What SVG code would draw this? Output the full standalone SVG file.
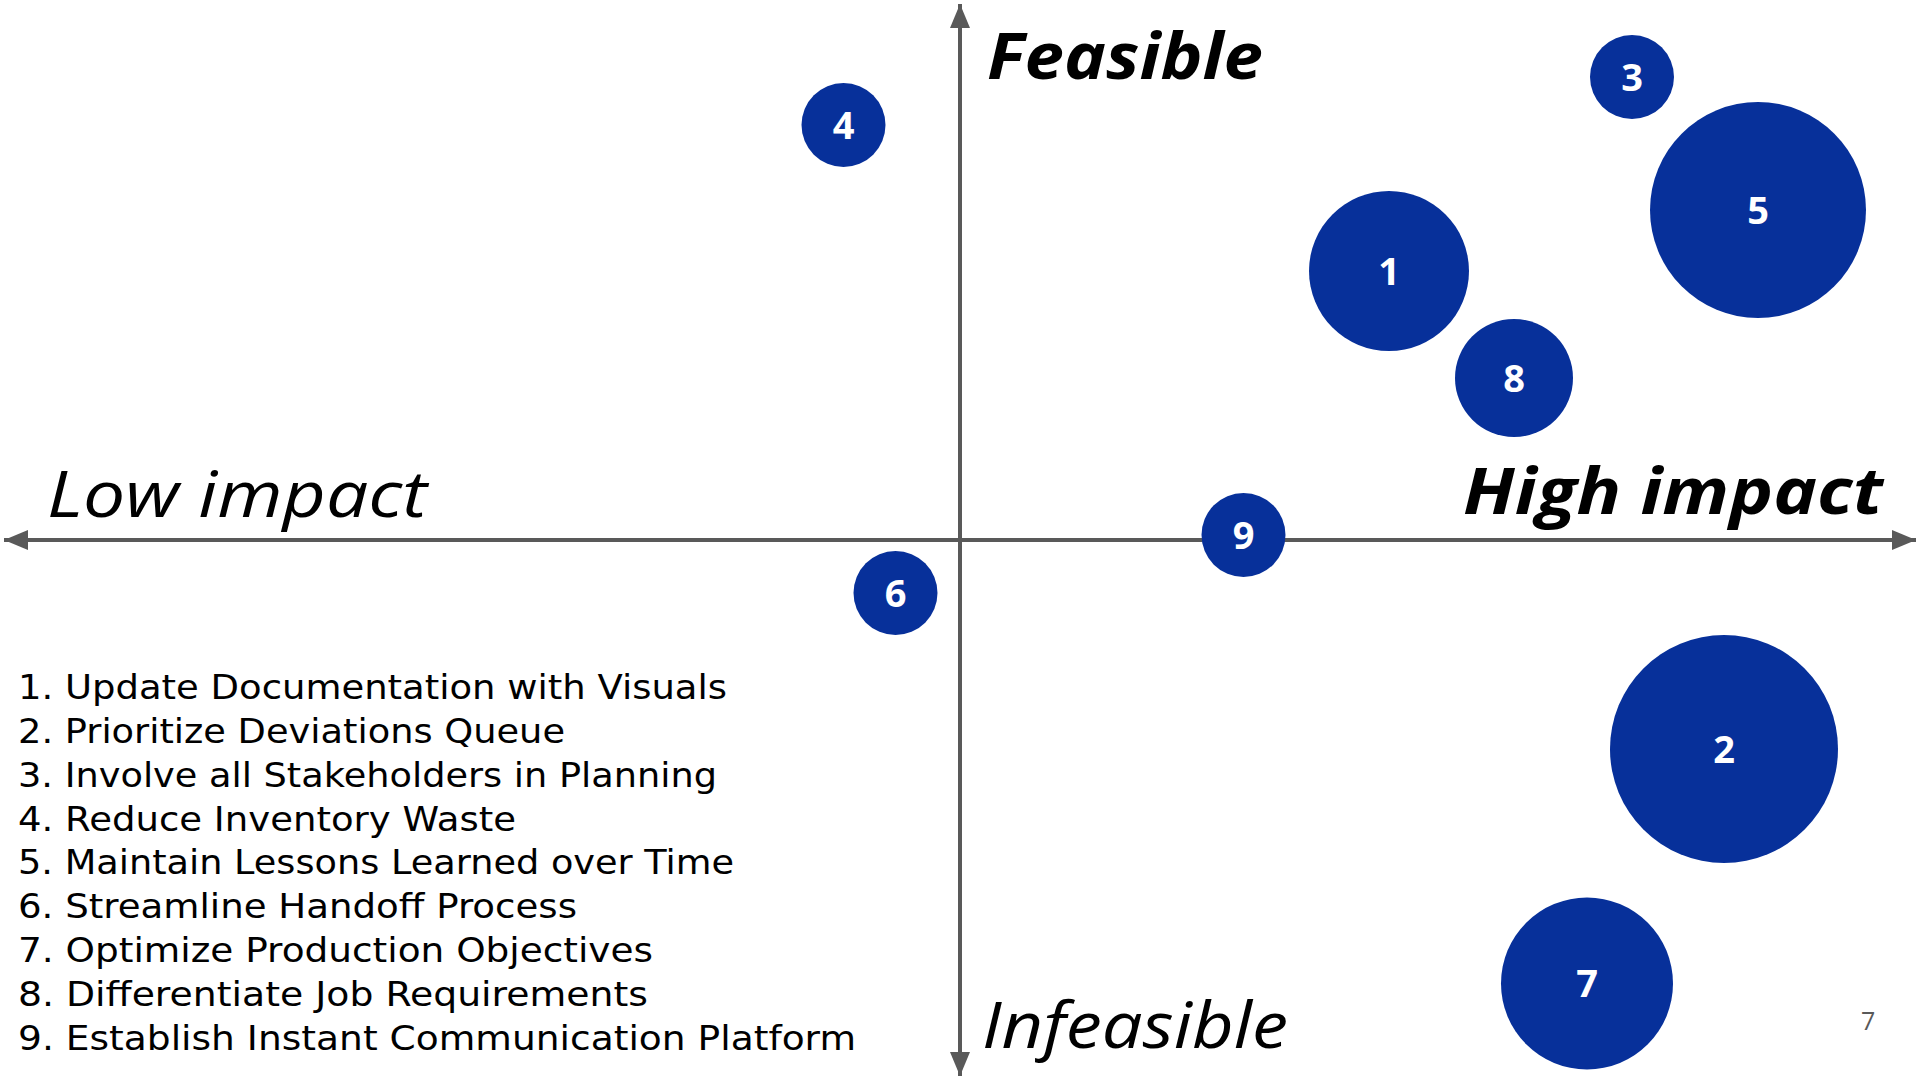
<svg xmlns="http://www.w3.org/2000/svg" width="1920" height="1080" viewBox="0 0 1920 1080">
<defs>
<style>
.bub{fill:#07309A;}
.num{fill:#FFFFFF;font-family:"Open Sans","Noto Sans",sans-serif;font-weight:700;font-size:38px;text-anchor:middle;}
.axis{stroke:#595959;stroke-width:4;fill:none;}
.lblB{fill:#000000;font-family:"Open Sans","Noto Sans",sans-serif;font-weight:700;font-style:italic;font-size:64px;}
.lblR{fill:#000000;font-family:"Open Sans","Noto Sans",sans-serif;font-weight:400;font-style:italic;font-size:64px;}
.item{fill:#000000;font-family:"DejaVu Sans","Open Sans",sans-serif;font-weight:400;font-size:34px;}
.pg{fill:#595959;font-family:"Open Sans","Noto Sans",sans-serif;font-size:25px;}
</style>
<marker id="arr" markerUnits="userSpaceOnUse" markerWidth="24" markerHeight="20" viewBox="0 0 24 20" refX="24" refY="10" orient="auto-start-reverse">
<path d="M0,0 L24,10 L0,20 Z" fill="#595959"/>
</marker>
</defs>
<rect x="0" y="0" width="1920" height="1080" fill="#FFFFFF"/>
<g id="connectors">
<line class="axis" x1="4" y1="540" x2="1916" y2="540" marker-start="url(#arr)" marker-end="url(#arr)"/>
<line class="axis" x1="960" y1="4" x2="960" y2="1076" marker-start="url(#arr)" marker-end="url(#arr)"/>
</g>
<g id="axis-labels">
<text id="label-feasible" class="lblB" x="987" y="79" textLength="276" lengthAdjust="spacingAndGlyphs">Feasible</text>
<text id="label-high" class="lblB" x="1463" y="514" textLength="420" lengthAdjust="spacingAndGlyphs">High impact</text>
<text id="label-low" class="lblR" x="47" y="517" textLength="380" lengthAdjust="spacingAndGlyphs">Low impact</text>
<text id="label-infeasible" class="lblR" x="982" y="1048" textLength="306" lengthAdjust="spacingAndGlyphs">Infeasible</text>
</g>
<g id="node-1"><circle class="bub" cx="1389" cy="271" r="80"/><text class="num" x="1389" y="285">1</text></g>
<g id="node-2"><circle class="bub" cx="1724" cy="749" r="114"/><text class="num" x="1724" y="763">2</text></g>
<g id="node-3"><circle class="bub" cx="1632" cy="77" r="42"/><text class="num" x="1632" y="91">3</text></g>
<g id="node-4"><circle class="bub" cx="843.5" cy="125" r="42"/><text class="num" x="843.5" y="139">4</text></g>
<g id="node-5"><circle class="bub" cx="1758" cy="210" r="108"/><text class="num" x="1758" y="224">5</text></g>
<g id="node-6"><circle class="bub" cx="895.5" cy="593" r="42"/><text class="num" x="895.5" y="607">6</text></g>
<g id="node-7"><circle class="bub" cx="1587" cy="983.5" r="86"/><text class="num" x="1587" y="997">7</text></g>
<g id="node-8"><circle class="bub" cx="1514" cy="378" r="59"/><text class="num" x="1514" y="392">8</text></g>
<g id="node-9"><circle class="bub" cx="1243.5" cy="535" r="42"/><text class="num" x="1243.5" y="549">9</text></g>
<g id="legend">
<text class="item" x="18" y="699" textLength="709" lengthAdjust="spacingAndGlyphs">1. Update Documentation with Visuals</text>
<text class="item" x="18" y="743" textLength="547" lengthAdjust="spacingAndGlyphs">2. Prioritize Deviations Queue</text>
<text class="item" x="18" y="787" textLength="699" lengthAdjust="spacingAndGlyphs">3. Involve all Stakeholders in Planning</text>
<text class="item" x="18" y="831" textLength="498" lengthAdjust="spacingAndGlyphs">4. Reduce Inventory Waste</text>
<text class="item" x="18" y="874" textLength="716" lengthAdjust="spacingAndGlyphs">5. Maintain Lessons Learned over Time</text>
<text class="item" x="18" y="918" textLength="559" lengthAdjust="spacingAndGlyphs">6. Streamline Handoff Process</text>
<text class="item" x="18" y="962" textLength="635" lengthAdjust="spacingAndGlyphs">7. Optimize Production Objectives</text>
<text class="item" x="18" y="1006" textLength="630" lengthAdjust="spacingAndGlyphs">8. Differentiate Job Requirements</text>
<text class="item" x="18" y="1050" textLength="838" lengthAdjust="spacingAndGlyphs">9. Establish Instant Communication Platform</text>
</g>
<text id="page-number" class="pg" x="1861" y="1030">7</text>
</svg>
